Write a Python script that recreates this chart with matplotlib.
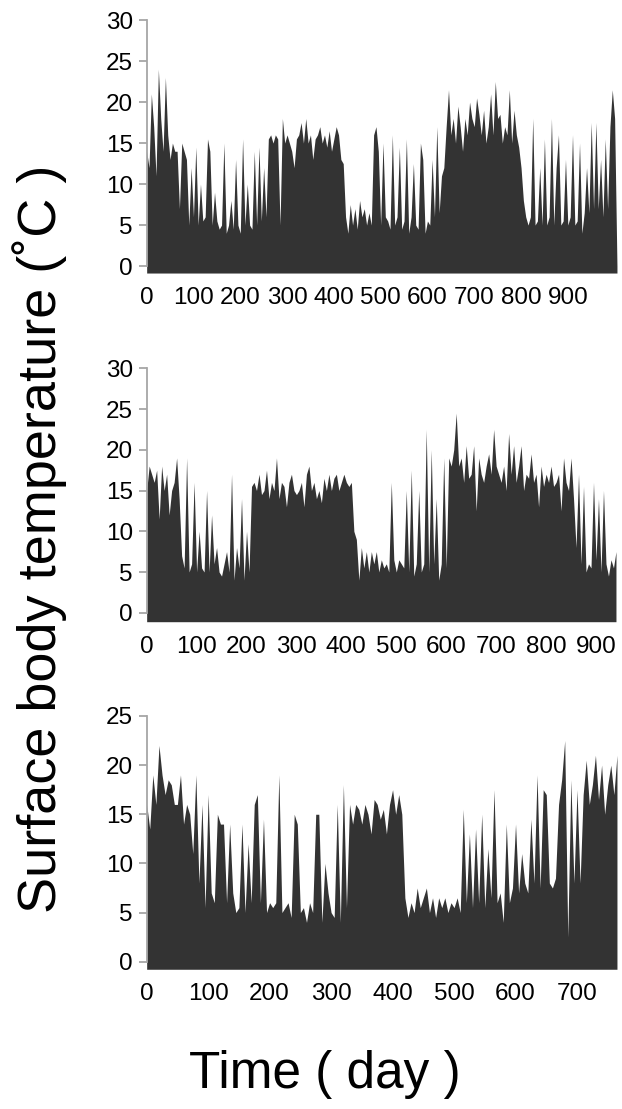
import numpy as np
import matplotlib
matplotlib.use('Agg')
import matplotlib.pyplot as plt

plt.rcParams['font.family'] = ['Liberation Sans', 'DejaVu Sans']

step = 5

temp_a = [14, 12, 21, 17, 11, 24, 18, 14, 23, 16,
          13, 15, 14, 14, 7, 15, 14, 13, 5, 12,
          6, 14.5, 5, 10, 5.5, 6, 15.5, 14, 5, 9,
          5.5, 4.5, 5, 15, 4, 5, 8, 4.5, 13, 5,
          4, 15.5, 5, 10, 5, 4.5, 14, 5, 14.5, 5.5,
          12, 6, 15.5, 16, 15, 16, 15.5, 5, 18, 15,
          16, 15, 14, 12, 15.5, 16, 17.5, 15, 18, 15,
          16, 13, 15.5, 16, 17, 15, 16, 14.5, 16.5, 14,
          15.5, 17, 16, 13, 12.5, 6, 4, 7.5, 5, 7,
          4.5, 8, 6, 7, 5, 6.5, 5, 16, 17, 14,
          5, 15, 6, 5.5, 4.5, 16, 5, 6, 14.5, 4.5,
          5.5, 15.5, 4, 6, 12.5, 5, 4.5, 15, 13, 4,
          5.5, 5, 13, 6, 17, 6.5, 11, 12, 17, 21.5,
          16, 18, 15, 19.5, 17, 14, 18, 16, 20, 18,
          17, 20.5, 18.5, 16, 19, 15, 17, 21, 16, 22.5,
          18, 18.5, 15, 17, 16, 21.5, 15, 19, 16, 14.5,
          12, 8, 6, 5, 6, 18, 5, 5.5, 12, 5,
          15.5, 5, 6, 18, 5, 12, 16, 5, 5.5, 13,
          5, 6, 16, 5, 5.5, 15, 4, 6.5, 12, 6.5,
          17.5, 7, 17.5, 7, 13, 6, 15.5, 7, 17, 21.5,
          18, 0]

temp_b = [15, 18, 17, 16, 17.5, 11.5, 18, 15, 17, 12,
          15, 16, 19, 14, 7, 5.5, 19, 5, 6, 16,
          5, 10, 5.5, 5, 15, 5, 12, 6, 8, 5,
          4.5, 6, 7.5, 5, 17, 4, 8, 5.5, 14, 4,
          10, 5, 15.5, 16, 15, 17, 14.5, 15, 17.5, 14,
          16, 15, 19, 14, 16, 15.5, 13, 16, 17, 15,
          14.5, 15, 16, 13, 17, 18, 15, 16, 14, 15,
          13.5, 16.5, 15, 17, 15, 16.5, 17, 15, 16, 17,
          16, 15.5, 16, 10, 9, 4, 8, 5.5, 7.5, 5,
          7.5, 6, 7.5, 5, 6.5, 5.5, 6, 5, 16, 6.5,
          5, 6.5, 6, 5.5, 15, 5, 17.5, 4.5, 6, 15,
          5, 6, 22.5, 5, 20, 6, 14, 4, 6, 19,
          5.5, 19, 18, 20, 24.5, 18, 19, 16, 20.5, 16.5,
          17, 20.5, 12.5, 19, 17, 16, 18, 19.5, 17, 22.5,
          18, 17, 16, 18, 15, 22, 17, 20.5, 16, 18,
          20.5, 15, 17, 16.5, 19.5, 16, 17, 13, 18, 15.5,
          17, 16, 18, 15.5, 16, 17, 12.5, 19, 16, 15,
          19, 14, 8, 17, 6, 15.5, 5, 6, 5.5, 16,
          6.5, 14, 5, 15, 6, 4.5, 6.5, 5.5, 7.5]

temp_c = [16, 13.5, 19, 16, 22, 19, 17, 18.5, 18, 16,
          16, 19, 14, 16, 15, 11, 19, 8, 16, 5.5,
          17, 7, 6, 15, 14, 14, 6, 14, 7, 5,
          5.5, 14, 5, 12, 6, 16, 17, 6, 14.5, 5,
          6, 5.5, 6, 19, 5, 5.5, 6, 4.5, 15, 14,
          5, 5.5, 4, 6, 5, 15, 15, 4, 10, 7,
          5, 4.5, 16, 4, 18, 5.5, 16, 14, 16, 15.5,
          14, 16, 15, 13, 16.5, 16, 14.5, 15.5, 13, 16,
          17.5, 15, 17, 15, 6.5, 4.5, 6, 5, 7.5, 5.5,
          6.5, 7.5, 5, 6.5, 4.5, 6.5, 5.5, 6.5, 5, 6,
          5.5, 6.5, 5, 15.5, 6, 13, 5.5, 13.5, 6, 15,
          5.5, 11.5, 6.5, 17.5, 6, 7, 4, 14, 6, 7.5,
          14, 7, 11, 8, 7, 14.5, 8, 19, 7.5, 17.5,
          17, 8, 7.5, 8.5, 16, 18.5, 22.5, 2.5, 18.5, 8,
          17.5, 8, 17, 20.5, 16, 18, 21, 16.5, 20, 15,
          18, 20, 17, 21]

panels = [
    (temp_a, 1005, 30, -0.85, list(range(0, 1000, 100)), [0.7538, 0.2281]),
    (temp_b, 942, 30, -1.1, list(range(0, 1000, 100)), [0.4394, 0.2285]),
    (temp_c, 765, 25, -0.77, list(range(0, 800, 100)), [0.1260, 0.2284]),
]

fig = plt.figure(figsize=(6.22, 11.09), dpi=100)

for temp, xmax, ymax, ymin, xticks, (bottom, height) in panels:
    ax = fig.add_axes([0.2358, bottom, 0.7561, height])
    days = np.arange(len(temp)) * step
    ax.fill_between(days, temp, ymin, color='#333333', linewidth=0)
    ax.set_xlim(0, xmax)
    ax.set_ylim(ymin, ymax)
    ax.set_yticks(range(0, ymax + 1, 5))
    ax.set_xticks(xticks)
    for s in ['top', 'right', 'bottom']:
        ax.spines[s].set_visible(False)
    ax.spines['left'].set_color('#a6a6a6')
    ax.spines['left'].set_linewidth(1.3)
    ax.spines['left'].set_bounds(0, ymax)
    ax.tick_params(axis='y', length=6, width=1.3, color='#a6a6a6', pad=4, labelsize=17.5)
    ax.tick_params(axis='x', length=0, pad=10, labelsize=17.5)

fig.text(0.063, 0.514, 'Surface body temperature (˚C )', rotation=90,
         ha='center', va='center', fontsize=39)
fig.text(0.523, 0.031, 'Time ( day )', ha='center', va='center', fontsize=37)

plt.savefig('out.png', dpi=100)
